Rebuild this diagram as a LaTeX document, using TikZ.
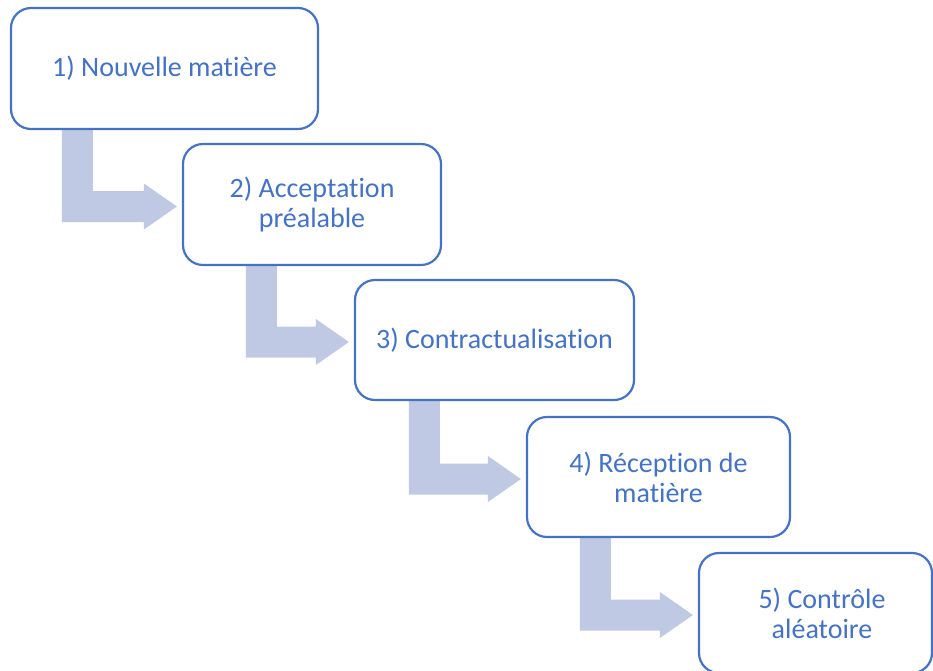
\documentclass[tikz,border=0pt]{standalone}
\usepackage{fontspec}
\setmainfont{Carlito}[Ligatures={NoCommon}]
\usetikzlibrary{calc,backgrounds}
\definecolor{acc}{RGB}{68,114,196}
\definecolor{arrowfill}{RGB}{192,201,228}
\newcommand\bentarrow[3]{%
  \fill[flow] let \p1=(#1.south west), \p2=(#2.west) in
    (\x1+#3pt,\y1) -- (\x1+#3pt+31pt,\y1)
    -- (\x1+#3pt+31pt,\y2-2pt+15.5pt)
    -- (\x2-38pt,\y2-2pt+15.5pt)
    -- (\x2-38pt,\y2-2pt+23pt)
    -- (\x2-5pt,\y2-2pt)
    -- (\x2-38pt,\y2-2pt-23pt)
    -- (\x2-38pt,\y2-2pt-15.5pt)
    -- (\x1+#3pt,\y2-2pt-15.5pt) -- cycle;}
\begin{document}
\begin{tikzpicture}[x=1pt,y=-1pt,
  box/.style={draw=acc, line width=2.2pt, fill=white, rounded corners=20pt,
    align=center, text=acc, font=\fontsize{28}{30}\selectfont, inner sep=0pt},
  flow/.style={fill=arrowfill, draw=none}]
\useasboundingbox (0,0) rectangle (933,670);
\node[box, minimum width=307pt, minimum height=121pt] (b1) at (164.5,68.5) {1) Nouvelle matière};
\node[box, minimum width=258pt, minimum height=121pt] (b2) at (312,204.5) {2) Acceptation\\préalable};
\node[box, minimum width=279pt, minimum height=120pt] (b3) at (494.5,340) {3) Contractualisation};
\node[box, minimum width=263pt, minimum height=120pt] (b4) at (658.5,477) {4) Réception de\\matière};
\node[box, minimum width=233pt, minimum height=120pt] (b5) at (815.5,613) {\hspace*{13pt}5) Contrôle\\\hspace*{13pt}aléatoire};
\begin{scope}[on background layer]
\bentarrow{b1}{b2}{52}
\bentarrow{b2}{b3}{64}
\bentarrow{b3}{b4}{55}
\bentarrow{b4}{b5}{54}
\end{scope}
\end{tikzpicture}
\end{document}
